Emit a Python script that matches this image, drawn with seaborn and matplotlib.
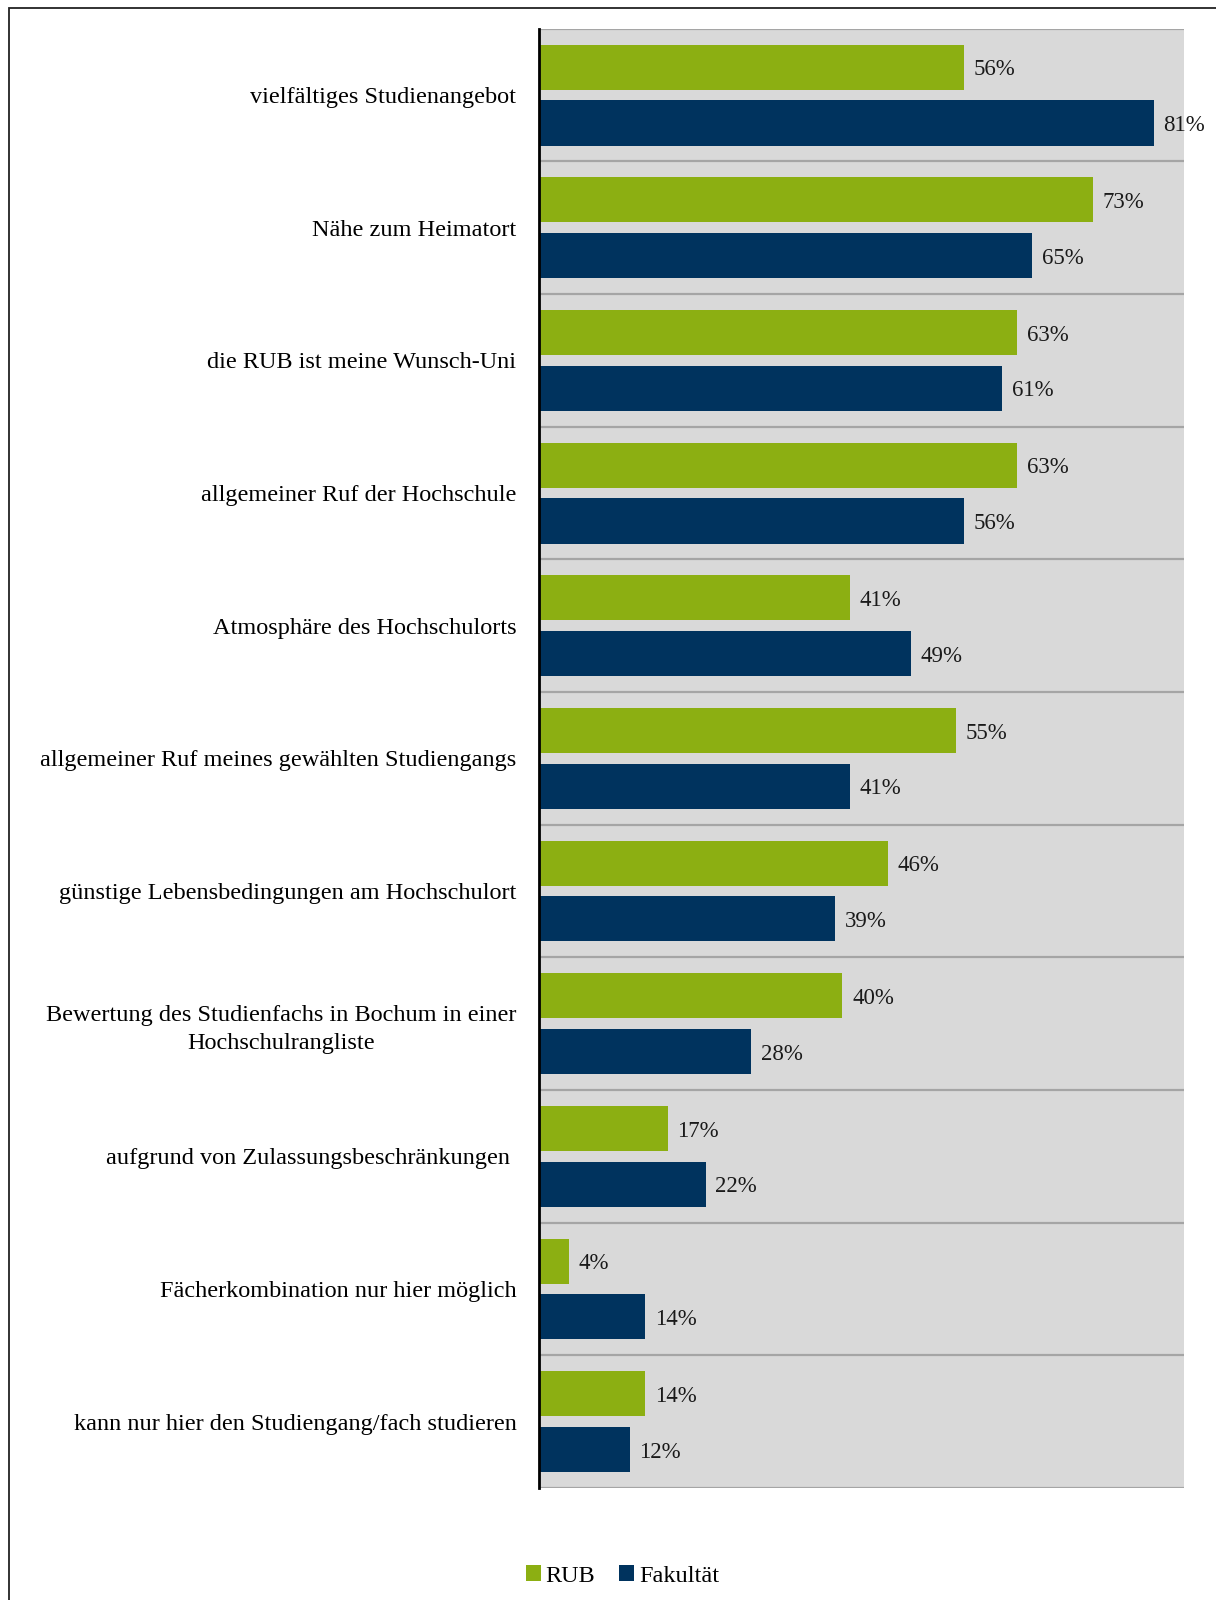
import numpy as np
import pandas as pd
import matplotlib
matplotlib.use("Agg")
import matplotlib.pyplot as plt
import seaborn as sns
from matplotlib.patches import Patch, Rectangle

plt.rcParams['font.family'] = ['Liberation Serif', 'DejaVu Serif']

# ── data ─────────────────────────────────────────────────────────────────────
categories = [
    "vielfältiges Studienangebot",
    "Nähe zum Heimatort",
    "die RUB ist meine Wunsch-Uni",
    "allgemeiner Ruf der Hochschule",
    "Atmosphäre des Hochschulorts",
    "allgemeiner Ruf meines gewählten Studiengangs",
    "günstige Lebensbedingungen am Hochschulort",
    "Bewertung des Studienfachs in Bochum in einer\nHochschulrangliste",
    "aufgrund von Zulassungsbeschränkungen ",
    "Fächerkombination nur hier möglich",
    "kann nur hier den Studiengang/fach studieren",
]
rub = [56, 73, 63, 63, 41, 55, 46, 40, 17, 4, 14]
fakultaet = [81, 65, 61, 56, 49, 41, 39, 28, 22, 14, 12]
series = ["RUB", "Fakultät"]

GREEN = "#8CAF12"
NAVY = "#00335E"
BG = "#D9D9D9"
GRID = "#A5A5A5"

df = pd.DataFrame({
    "Grund": categories * 2,
    "Gruppe": [series[0]] * len(categories) + [series[1]] * len(categories),
    "Wert": rub + fakultaet,
})

# ── figure ───────────────────────────────────────────────────────────────────
fig = plt.figure(figsize=(12.16, 16), dpi=100)
fig.patches.append(Rectangle((9 / 1216, -0.1), 1.2, 1 - 8 / 1600 + 0.1,
                             transform=fig.transFigure, fill=False,
                             edgecolor="#222222", linewidth=1.3))
ax = fig.add_axes([0.443, 0.07, 0.5307, 0.912])
ax.set_facecolor(BG)

sns.barplot(data=df, y="Grund", x="Wert", hue="Gruppe", order=categories,
            hue_order=series, palette={series[0]: GREEN, series[1]: NAVY},
            orient="h", width=0.84, gap=0.19, saturation=1, ax=ax,
            legend=False)

for cont in ax.containers:
    texts = ax.bar_label(cont, fmt="%d%%", padding=7, fontsize=16.5, color="#1a1a1a")
    for t in texts:
        t.set_va("center_baseline")

ax.set_xlim(0, 85)
ax.set_ylim(len(categories) - 0.5, -0.5)
ax.set_yticks(np.arange(-0.5, len(categories)), minor=True)
ax.grid(False)
ax.grid(which="minor", axis="y", color=GRID, linewidth=1.6)
ax.tick_params(axis="y", which="both", length=0, pad=16, labelsize=17.5)
ax.set_xticks([])
ax.set_xlabel("")
ax.set_ylabel("")
for lab in ax.get_yticklabels():
    lab.set_multialignment("center")
    lab.set_linespacing(1.45)

for s in ["top", "right", "bottom"]:
    ax.spines[s].set_visible(False)
ax.spines["left"].set_color("black")
ax.spines["left"].set_linewidth(2)
ax.set_axisbelow(True)

handles = [Patch(facecolor=GREEN, label=series[0]),
           Patch(facecolor=NAVY, label=series[1])]
fig.legend(handles=handles, loc="center", bbox_to_anchor=(0.512, 1 - 1576 / 1600),
           ncol=2, frameon=False, fontsize=17.5, handlelength=0.6,
           handleheight=0.6, handletextpad=0.2, columnspacing=1.0)

fig.savefig("out.png", dpi=100)
